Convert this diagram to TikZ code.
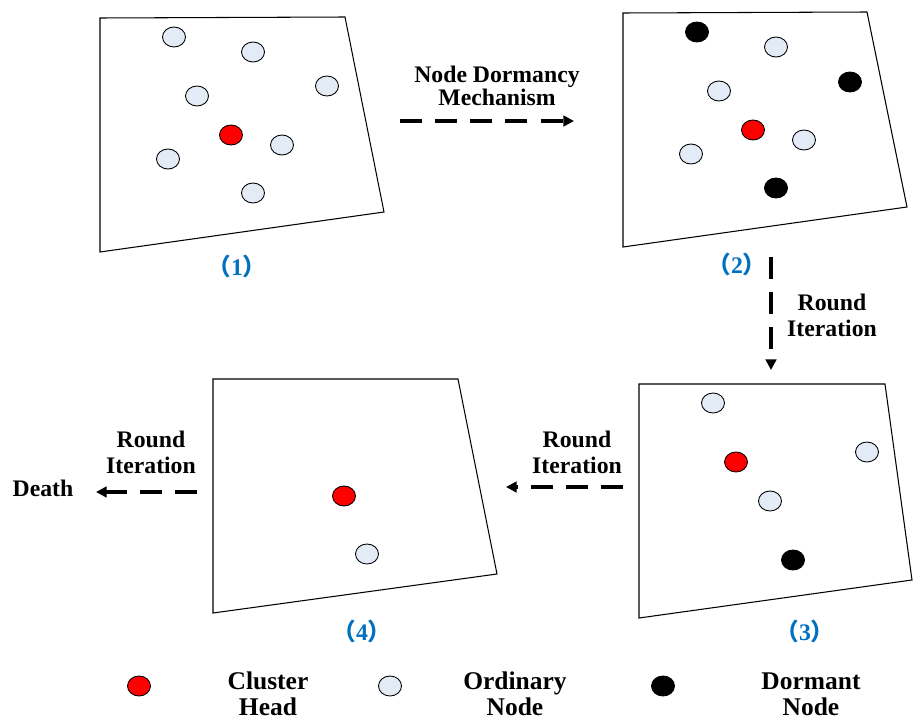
\documentclass[tikz,border=0pt]{standalone}
\usepackage{fontspec}
\setmainfont{Liberation Serif}
\newfontfamily\cjk{Noto Sans CJK SC}
\usepackage{xcolor}
\usepackage{tikz}
\usetikzlibrary{arrows.meta,shapes.geometric}
\definecolor{tagblue}{RGB}{0,112,192}
\definecolor{ordfill}{RGB}{226,235,246}

\begin{document}
\begin{tikzpicture}[
x=0.02cm,y=-0.02cm,
ch/.style={ellipse, draw, fill=red, line width=0.5pt, minimum width=0.46cm, minimum height=0.40cm, inner sep=0pt},
ord/.style={ellipse, draw, fill=ordfill, line width=0.5pt, minimum width=0.46cm, minimum height=0.40cm, inner sep=0pt},
dor/.style={ellipse, draw, fill=black, line width=0.5pt, minimum width=0.46cm, minimum height=0.40cm, inner sep=0pt},
area/.style={draw, line width=0.6pt},
route/.style={-{Triangle[length=6pt,width=6pt]}, line width=1.9pt, dash pattern=on 12.5pt off 7.5pt},
lbl/.style={font=\fontsize{13.5}{14.7}\selectfont\bfseries, align=center, inner sep=0pt},
tag/.style={text=tagblue, font=\fontsize{13.5}{14}\selectfont\bfseries, inner sep=0pt},
leg/.style={font=\fontsize{14.5}{15}\selectfont\bfseries, align=center, inner sep=0pt},
]
\useasboundingbox (0,0) rectangle (913,720);

%area (1)
\draw[area] (100,18) -- (345,17) -- (384,212) -- (100,252) -- cycle;
\node(a1)[ord] at (174,37){};
\node(a2)[ord] at (253,52){};
\node(a3)[ord] at (327,86){};
\node(a4)[ord] at (197,96){};
\node(a5)[ch]  at (231,135){};
\node(a6)[ord] at (282,145){};
\node(a7)[ord] at (168,159){};
\node(a8)[ord] at (253,193){};
\node(t1)[tag] at (237,266){{\cjk （}1{\cjk ）}};

%area (2)
\draw[area] (623,13) -- (867,12) -- (907,207) -- (623,247) -- cycle;
\node(b1)[dor] at (697,32){};
\node(b2)[ord] at (776,47){};
\node(b3)[dor] at (850,82){};
\node(b4)[ord] at (719,91){};
\node(b5)[ch]  at (753,130){};
\node(b6)[ord] at (804,140){};
\node(b7)[ord] at (691,154){};
\node(b8)[dor] at (776,188){};
\node(t2)[tag] at (737,264){{\cjk （}2{\cjk ）}};

%area (3)
\draw[area] (639,384) -- (885,384) -- (912,580) -- (639,618) -- cycle;
\node(c1)[ord] at (713,403){};
\node(c2)[ch]  at (736,462){};
\node(c3)[ord] at (867,452){};
\node(c4)[ord] at (770,501){};
\node(c5)[dor] at (793,560){};
\node(t3)[tag] at (805,631){{\cjk （}3{\cjk ）}};

%area (4)
\draw[area] (213,379) -- (458,379) -- (497,574) -- (213,613) -- cycle;
\node(d1)[ch]  at (344,496){};
\node(d2)[ord] at (367,554){};
\node(t4)[tag] at (362,631){{\cjk （}4{\cjk ）}};

%arrows
\coordinate (r1s) at (400,121);
\coordinate (r1e) at (574,121);
\coordinate (r2s) at (771,257);
\coordinate (r2e) at (771,370);
\coordinate (r3s) at (623,487);
\coordinate (r3e) at (506,487);
\coordinate (r4s) at (197,492);
\coordinate (r4e) at (96,492);
\draw[route] (r1s) -- (r1e);
\draw[route] (r2s) -- (r2e);
\draw[route] (r3s) -- (r3e);
\draw[route] (r4s) -- (r4e);
\node(m1)[lbl, font=\fontsize{13.5}{13}\selectfont\bfseries] at (497,86){Node Dormancy\\Mechanism};
\node(m2)[lbl] at (832,315){Round\\Iteration};
\node(m3)[lbl] at (577,452){Round\\Iteration};
\node(m4)[lbl] at (151,452){Round\\Iteration};
\node(death)[lbl] at (43,488){Death};

%legend
\node(k1)[ch]  at (139,686){};
\node(k2)[ord] at (390,686){};
\node(k3)[dor] at (663,686){};
\node(l1)[leg] at (268,694){Cluster\\Head};
\node(l2)[leg] at (515,694){Ordinary\\Node};
\node(l3)[leg] at (811,694){Dormant\\Node};

\end{tikzpicture}
\end{document}
